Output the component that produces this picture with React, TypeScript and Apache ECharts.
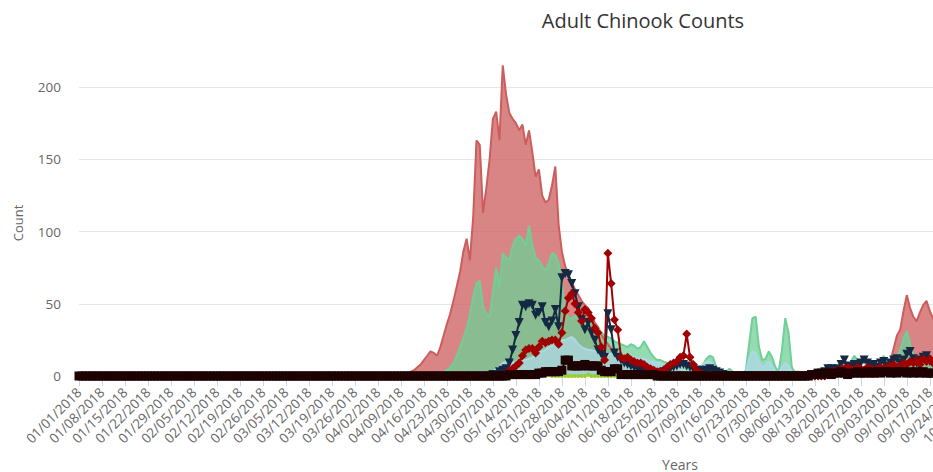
import React, { useEffect, useRef } from "react";
import * as echarts from "echarts";

// Daily categories for 2018
const categories: string[] = [];
for (let i = 0; i < 365; i++) {
  const d = new Date(2018, 0, 1 + i);
  const mm = String(d.getMonth() + 1).padStart(2, "0");
  const dd = String(d.getDate()).padStart(2, "0");
  categories.push(`${mm}/${dd}/2018`);
}
// last labelled category that can reach the visible page (10/01/2018)
const lastLabelIndex = 273;

const yTicks = [0, 50, 100, 150, 200];

// Each series: first day index with data, then daily values
const redStart = 95;
const redValues = [
  0, 1, 1, 1, 2, 2, 3, 4, 6, 8,
  11, 14, 17, 16, 14, 20, 28, 36, 43, 52,
  62, 72, 86, 95, 80, 110, 163, 160, 113, 130,
  150, 178, 183, 163, 215, 195, 182, 178, 175, 170,
  174, 160, 170, 155, 138, 143, 125, 120, 122, 132,
  145, 105, 86, 76, 70, 65, 60, 56, 52, 49,
  47, 42, 37, 34, 29, 25, 22, 19, 15, 13,
  11, 10, 10, 9, 9, 8, 7, 6, 5, 5,
  4, 4, 3, 3, 3, 2, 2, 3, 3, 2,
  2, 2, 1, 1, 1, 1, 1, 1, 1, 0,
  0, 0, 0, 0, 0, 0, 0, 0, 0, 0,
  0, 0, 0, 0, 0, 0, 0, 0, 0, 0,
  0, 1, 2, 3, 3, 2, 1, 0, 0, 0,
  0, 1, 1, 1, 2, 2, 2, 1, 1, 2,
  2, 2, 3, 2, 2, 2, 3, 3, 3, 4,
  3, 4, 10, 19, 28, 32, 45, 56, 47, 41,
  38, 44, 49, 52, 45, 40, 34, 36, 30, 24, 18,
];

const greenStart = 108;
const greenValues = [
  0, 1, 2, 3, 4, 6, 9,
  14, 20, 26, 33, 42, 55, 64, 66, 48, 43,
  41, 58, 75, 62, 85, 82, 80, 90, 95, 97,
  95, 90, 104, 90, 82, 80, 76, 73, 78, 85,
  84, 78, 64, 45, 40, 40, 42, 42, 40, 38,
  37, 37, 35, 33, 30, 28, 27, 26, 24, 23,
  22, 21, 20, 22, 21, 19, 20, 24, 20, 16,
  13, 11, 11, 10, 9, 9, 8, 7, 6, 6,
  5, 5, 4, 4, 5, 8, 12, 14, 13, 6,
  3, 2, 3, 5, 3, 2, 1, 1, 4, 22,
  40, 41, 20, 11, 12, 17, 13, 6, 3, 18,
  40, 30, 6, 2, 1, 1, 1, 1, 0, 0,
  0, 0, 1, 1, 1, 2, 3, 4, 5, 6,
  10, 14, 11, 6, 4, 3, 3, 4, 6, 11,
  14, 8, 6, 8, 12, 18, 26, 31, 22, 14,
  10, 8, 9, 12, 10, 8, 7, 6, 5, 4, 3,
];

const blueStart = 124;
const blueValues = [
  0, 1, 3, 5, 7, 9, 10, 9, 9, 10, 10,
  11, 11, 12, 13, 14, 16, 17, 18, 20, 21,
  22, 24, 25, 25, 26, 27, 25, 22, 20, 19,
  18, 18, 17, 17, 16, 16, 16, 15, 15, 14,
  13, 13, 13, 13, 13, 12, 12, 12, 11, 10,
  10, 9, 9, 8, 8, 7, 7, 7, 6, 6,
  6, 5, 5, 5, 6, 8, 10, 10, 8, 4,
  2, 2, 2, 3, 2, 1, 1, 1, 3, 12,
  17, 16, 10, 6, 8, 10, 7, 3, 2, 6,
  9, 7, 3, 1, 1, 0, 0, 0, 0, 0,
  0, 0, 0, 0, 0, 0, 0, 0, 0, 1,
  1, 1, 1, 1, 1, 1, 1, 1, 2, 3,
  4, 3, 2, 2, 3, 4, 5, 6, 5, 4,
  3, 3, 4, 5, 4, 3,
];

const navyStart = 125;
const navyValues = [
  0, 1, 1, 3, 4, 5, 9, 18, 28, 37,
  49, 48, 50, 49, 42, 44, 48, 37, 34, 38,
  46, 34, 68, 71, 70, 64, 57, 48, 39, 32,
  37, 30, 25, 18, 15, 13, 43, 32, 16, 13,
  11, 9, 8, 7, 6, 5, 4, 4, 3, 3,
  2, 2, 2, 3, 4, 5, 6, 7, 8, 8,
  7, 6, 5, 4, 4, 3, 4, 5, 4, 3,
  2, 1, 0, 0, 0, 0, 0, 0, 0, 0,
  0, 0, 0, 0, 0, 0, 0, 0, 0, 0,
  0, 0, 0, 0, 0, 0, 0, 0, 0, 0,
  1, 2, 3, 5, 5, 4, 5, 8, 11, 7,
  6, 8, 7, 9, 11, 9, 7, 8, 6, 9,
  10, 7, 9, 11, 12, 9, 11, 15, 17, 12,
  9, 11, 13, 14, 10, 9, 8, 10, 9, 7, 6,
];

const darkRedStart = 130;
const darkRedValues = [
  1, 4, 5, 7, 9, 14, 18, 19, 19, 16,
  20, 24, 23, 24, 25, 25, 22, 30, 45, 54,
  57, 50, 44, 38, 46, 44, 40, 33, 30, 20,
  11, 85, 64, 39, 32, 13, 12, 13, 11, 10,
  9, 9, 8, 6, 5, 4, 3, 3, 4, 6,
  8, 9, 10, 13, 14, 29, 13, 8, 4, 2,
  1, 0, 0, 0, 0, 0, 0, 0, 0, 0,
  0, 0, 0, 0, 0, 0, 0, 0, 0, 0,
  0, 0, 0, 0, 0, 0, 0, 0, 0, 0,
  0, 0, 0, 0, 0, 0, 0, 0, 2, 3,
  3, 4, 5, 5, 6, 5, 4, 6, 5, 4,
  6, 5, 4, 5, 6, 5, 6, 7, 8, 6,
  7, 9, 8, 10, 9, 11, 8, 12, 10, 12,
  9, 10, 11, 9, 8, 7,
];

const yellowStart = 118;
const yellowValues = [
  0, 0, 0, 1, 1, 0, 0, 0, 0, 0,
  0, 0, 0, 0, 0, 1, 0, 0, 0, 0,
  0, 0, 0, 1, 1, 1, 0, 0, 0, 0,
  0, 0, 0, 0, 0, 0, 0, 1, 0, 0,
  0, 0, 0, 0, 0, 0, 0, 0, 0, 0,
];

const blackZeroDays = 131;
const blackValues = [
  1, 1, 1, 1, 1, 1, 1, 1,
  1, 2, 2, 3, 3, 3, 3, 3, 4, 11,
  11, 7, 7, 7, 7, 8, 7, 7, 7, 7,
  4, 3, 3, 3, 5, 5, 1, 1, 1, 1, 1,
  1, 1, 1, 1, 1, 1, 0, 0, 0, 0,
  0, 0, 0, 0, 0, 0, 0, 0, 0, 0,
  0, 0, 0, 0, 0, 0, 0, 0, 0, 0,
  0, 0, 0, 0, 0, 0, 0, 0, 0, 0,
  0, 0, 0, 0, 0, 0, 0, 0, 0, 0,
  0, 0, 0, 1, 1, 2, 1, 2, 2, 1,
  2, 2, 3, 2, 1, 2, 2, 3, 2, 2,
  3, 2, 2, 3, 2, 3, 3, 2, 3, 2,
  3, 3, 2, 3, 2, 3, 2, 3, 2, 2, 2,
];

function withLead(start: number, vals: number[], lead: number | null) {
  const out: (number | null)[] = [];
  for (let i = 0; i < start; i++) out.push(lead);
  return out.concat(vals);
}

const FONT = '"Open Sans", "DejaVu Sans", sans-serif';

export default function App() {
  const ref = useRef<HTMLDivElement>(null);
  useEffect(() => {
    if (!ref.current) return;
    const chart = echarts.init(ref.current, undefined, { renderer: "svg" });
    const areaSeries = (name: string, color: string, start: number, vals: number[]) => ({
      name,
      type: "line",
      data: withLead(start, vals, null),
      showSymbol: false,
      clip: false,
      lineStyle: { color, width: 2 },
      itemStyle: { color },
      areaStyle: { color, opacity: 0.75 },
      emphasis: { disabled: true },
    });
    const markerSeries = (
      name: string,
      color: string,
      start: number,
      vals: number[],
      symbol: string,
      size: number,
      rotate: number,
      lead: number | null
    ) => ({
      name,
      type: "line",
      data: withLead(start, vals, lead),
      symbol,
      symbolSize: size,
      symbolRotate: rotate,
      showSymbol: true,
      showAllSymbol: true,
      clip: false,
      lineStyle: { color, width: 2 },
      itemStyle: { color },
      emphasis: { disabled: true },
    });
    chart.setOption({
      animation: false,
      textStyle: { fontFamily: FONT },
      title: {
        text: "Adult Chinook Counts",
        left: "center",
        top: 5,
        textStyle: { fontFamily: FONT, fontSize: 20, fontWeight: "normal", color: "#333333" },
      },
      grid: { left: 79, top: 87, width: 1195.7, height: 289, outerBoundsMode: "none", containLabel: false },
      xAxis: {
        type: "category",
        data: categories,
        boundaryGap: false,
        axisLine: { lineStyle: { color: "#ccd6eb" } },
        axisTick: { show: true, interval: 6, length: 10, lineStyle: { color: "#ccd6eb" } },
        axisLabel: {
          interval: (idx: number) => idx % 7 === 0 && idx <= lastLabelIndex,
          rotate: 45,
          color: "#666666",
          fontSize: 13.5,
          margin: 14,
          fontFamily: FONT,
        },
        splitLine: { show: false },
      },
      yAxis: {
        type: "value",
        min: yTicks[0],
        max: yTicks[yTicks.length - 1],
        interval: 50,
        axisLine: { show: false },
        axisTick: { show: false },
        axisLabel: { color: "#666666", fontSize: 13.5, margin: 18, fontFamily: FONT },
        splitLine: { lineStyle: { color: "#e6e6e6" } },
      },
      graphic: [
        {
          type: "text",
          x: 18,
          y: 223,
          rotation: Math.PI / 2,
          style: {
            text: "Count",
            fill: "#666666",
            font: `13px ${FONT}`,
            textAlign: "center",
            textVerticalAlign: "middle",
          },
        },
        {
          type: "text",
          x: 680,
          y: 464,
          style: {
            text: "Years",
            fill: "#666666",
            font: `14px ${FONT}`,
            textAlign: "center",
            textVerticalAlign: "middle",
          },
        },
      ],
      series: [
        areaSeries("Adult Chinook", "#cd5c5c", redStart, redValues),
        areaSeries("Adult Chinook 2", "#6fcf97", greenStart, greenValues),
        areaSeries("Adult Chinook 3", "#add8e6", blueStart, blueValues),
        markerSeries("Yellow", "#9acd32", yellowStart, yellowValues, "circle", 4, 0, null),
        markerSeries("Navy", "#142a43", navyStart, navyValues, "triangle", 9, 180, null),
        markerSeries("Dark red", "#a00000", darkRedStart, darkRedValues, "diamond", 9, 0, null),
        markerSeries("Black", "#1e0202", blackZeroDays, blackValues, "rect", 9, 0, 0),
      ],
    });
    return () => chart.dispose();
  }, []);
  return (
    <div style={{ position: "fixed", left: 0, top: 0, width: 933, height: 472, overflow: "hidden", background: "#fff" }}>
      <div ref={ref} style={{ width: 1286, height: 472 }} />
    </div>
  );
}
